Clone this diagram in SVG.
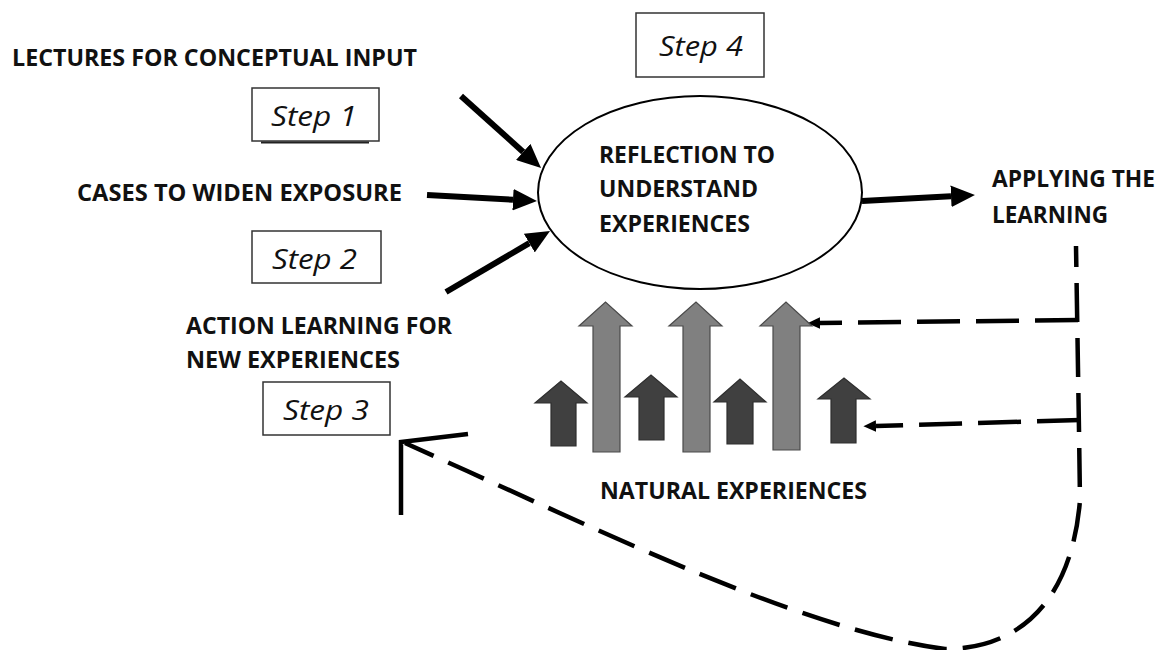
<svg xmlns="http://www.w3.org/2000/svg" width="1162" height="650" viewBox="0 0 1162 650">
  <style>
    .lbl { font-family: "Open Sans", "Liberation Sans", sans-serif; font-weight: bold; font-size: 23px; fill: #111; }
    .step { font-family: "Open Sans", "Liberation Sans", sans-serif; font-style: italic; font-size: 28px; fill: #111; }
    .box { fill: #fff; stroke: #333; stroke-width: 1.5; }
    .thick { fill: none; stroke: #000; stroke-width: 6; }
    .dash { fill: none; stroke: #000; stroke-width: 4.5; stroke-dasharray: 43 16; }
    .vdash { fill: none; stroke: #000; stroke-width: 4.5; stroke-dasharray: 39 16; stroke-dashoffset: 18; }
    .gray { fill: #808080; stroke: #4a4a4a; stroke-width: 1.2; }
    .dark { fill: #404040; stroke: #2e2e2e; stroke-width: 1.2; }
  </style>
  <defs>
    <marker id="big" viewBox="0 0 10 10" refX="0" refY="5" markerWidth="4" markerHeight="3.6" preserveAspectRatio="none" orient="auto">
      <path d="M0,0 L10,5 L0,10 z" fill="#000"/>
    </marker>
    <marker id="small" viewBox="0 0 10 10" refX="0" refY="5" markerWidth="2.8" markerHeight="2.6" preserveAspectRatio="none" orient="auto">
      <path d="M0,0 L10,5 L0,10 z" fill="#000"/>
    </marker>
  </defs>
  <rect width="1162" height="650" fill="#fff"/>

  <g id="connectors">
    <path class="thick" d="M461,96 L523.2,151.9" marker-end="url(#big)"/>
    <path class="thick" d="M427,195 L513,199.7" marker-end="url(#big)"/>
    <path class="thick" d="M446,292 L529.3,243.1" marker-end="url(#big)"/>
    <path class="thick" d="M862,201 L951,196.3" marker-end="url(#big)"/>
    <path class="dash" d="M1078,320 L820,323" marker-end="url(#small)"/>
    <path class="dash" d="M1080,420 L876,426" marker-end="url(#small)"/>
    <path class="vdash" d="M1076,246 L1079,430 L1080,500 C1072,600 1020,649 945,649 C800,630 600,530 405,443"/>
    <path fill="none" stroke="#000" stroke-width="4.5" d="M468,434 L401,442 L401,515"/>
  </g>

  <g id="step4">
    <rect class="box" x="636" y="13" width="128" height="64"/>
    <text class="step" x="659" y="56" textLength="84" lengthAdjust="spacingAndGlyphs">Step 4</text>
  </g>
  <g id="step1">
    <rect class="box" x="252" y="88" width="127" height="53"/>
    <line x1="261" y1="142.5" x2="369" y2="142.5" stroke="#222" stroke-width="2"/>
    <text class="step" x="271" y="126" textLength="86" lengthAdjust="spacingAndGlyphs">Step 1</text>
  </g>
  <g id="step2">
    <rect class="box" x="252" y="231" width="129" height="52"/>
    <text class="step" x="272" y="269" textLength="85" lengthAdjust="spacingAndGlyphs">Step 2</text>
  </g>
  <g id="step3">
    <rect class="box" x="263" y="382" width="127" height="53"/>
    <text class="step" x="283" y="420" textLength="86" lengthAdjust="spacingAndGlyphs">Step 3</text>
  </g>

  <g id="lectures">
    <text class="lbl" x="12" y="66" textLength="405" lengthAdjust="spacingAndGlyphs">LECTURES FOR CONCEPTUAL INPUT</text>
  </g>
  <g id="cases">
    <text class="lbl" x="77" y="201" textLength="325" lengthAdjust="spacingAndGlyphs">CASES TO WIDEN EXPOSURE</text>
  </g>
  <g id="action">
    <text class="lbl" x="186" y="334" textLength="266" lengthAdjust="spacingAndGlyphs">ACTION LEARNING FOR</text>
    <text class="lbl" x="186" y="368" textLength="214" lengthAdjust="spacingAndGlyphs">NEW EXPERIENCES</text>
  </g>
  <g id="reflection">
    <ellipse cx="700" cy="192.5" rx="162" ry="96.5" fill="#fff" stroke="#000" stroke-width="2"/>
    <text class="lbl" x="599" y="163" textLength="176" lengthAdjust="spacingAndGlyphs">REFLECTION TO</text>
    <text class="lbl" x="599" y="197" textLength="159" lengthAdjust="spacingAndGlyphs">UNDERSTAND</text>
    <text class="lbl" x="599" y="232" textLength="151" lengthAdjust="spacingAndGlyphs">EXPERIENCES</text>
  </g>
  <g id="applying">
    <text class="lbl" x="992" y="187" textLength="163" lengthAdjust="spacingAndGlyphs">APPLYING THE</text>
    <text class="lbl" x="992" y="223" textLength="116" lengthAdjust="spacingAndGlyphs">LEARNING</text>
  </g>
  <g id="natural">
    <polygon class="dark" points="551,446 551,403 535,403 561,381 587,403 576,403 576,446"/>
    <polygon class="gray" points="593,452 593,326 579,326 605.5,302 632,326 620,326 620,452"/>
    <polygon class="dark" points="639,440 639,397 625,397 651,375 677,397 664,397 664,440"/>
    <polygon class="gray" points="683,452 683,326 669,326 696,302 722,326 710,326 710,452"/>
    <polygon class="dark" points="727,444 727,402 714,402 740,379 766,402 753,402 753,444"/>
    <polygon class="gray" points="773,450 773,326 760,326 786,302 812,326 800,326 800,450"/>
    <polygon class="dark" points="831,443 831,399 818,399 844,378 870,399 856,399 856,443"/>
    <text class="lbl" x="600" y="499" textLength="267" lengthAdjust="spacingAndGlyphs">NATURAL EXPERIENCES</text>
  </g>
</svg>
